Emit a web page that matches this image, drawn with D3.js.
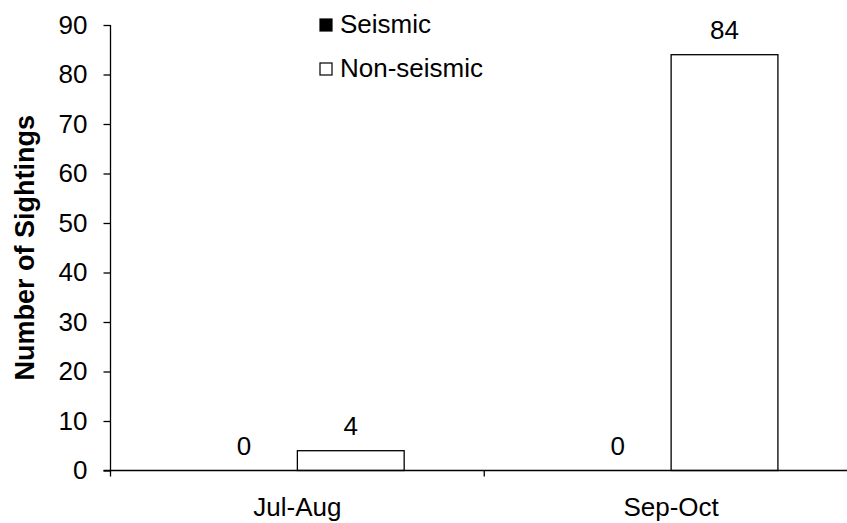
<!DOCTYPE html>
<html>
<head>
<meta charset="utf-8">
<script src="https://cdn.jsdelivr.net/npm/d3@7/dist/d3.min.js"></script>
<style>
html,body{margin:0;padding:0;background:#fff;}
svg{display:block;}
text{font-family:"Liberation Sans",Arial,sans-serif;fill:#000;}
</style>
</head>
<body>
<svg id="chart" width="847" height="523"></svg>
<script>
const categories = ["Jul-Aug", "Sep-Oct"];
const seriesNames = ["Seismic", "Non-seismic"];
const seismic = [0, 0];
const nonSeismic = [4, 84];
const yTicks = [0, 10, 20, 30, 40, 50, 60, 70, 80, 90];
const yTitle = "Number of Sightings";

(function () {
const svg = d3.select("#chart");
const pLeft = 110.5, pRight = 858, pTop = 25, pBottom = 470.5;
const fs = "26px";

const y = d3.scaleLinear().domain([0, 90]).range([pBottom, pTop]);
const x = d3.scaleBand().domain(categories).range([pLeft, pRight]).paddingInner(0).paddingOuter(0);
const gapRatio = 1.5;
const barW = x.bandwidth() / (2 + gapRatio);
const xs = d3.scaleBand().domain(seriesNames).range([0, 2 * barW]);
const offset = (x.bandwidth() - 2 * barW) / 2;

const data = categories.map((c, i) => ({cat: c, values: [
  {s: seriesNames[0], v: seismic[i]},
  {s: seriesNames[1], v: nonSeismic[i]}
]}));
const fills = {"Seismic": "#000", "Non-seismic": "#fff"};

const groups = svg.append("g").selectAll("g").data(data).join("g")
  .attr("transform", d => `translate(${x(d.cat) + offset},0)`);
groups.selectAll("rect").data(d => d.values).join("rect")
  .attr("x", d => xs(d.s))
  .attr("y", d => y(d.v))
  .attr("width", xs.bandwidth())
  .attr("height", d => y(0) - y(d.v))
  .attr("fill", d => fills[d.s])
  .attr("stroke", "#000")
  .attr("stroke-width", 1.3);

groups.selectAll("text").data(d => d.values).join("text")
  .attr("x", d => xs(d.s) + xs.bandwidth() / 2)
  .attr("y", d => y(d.v) - 16)
  .attr("text-anchor", "middle")
  .style("font-size", fs)
  .text(d => d.v);

const yAxis = svg.append("g").attr("transform", `translate(${pLeft},0)`)
  .call(d3.axisLeft(y).tickValues(yTicks).tickSize(7).tickPadding(16));
yAxis.select(".domain").attr("stroke", "#000").attr("stroke-width", 1.3).attr("d", `M0,${pTop}V${pBottom}`);
yAxis.selectAll(".tick line").attr("stroke", "#000").attr("stroke-width", 1.3);
yAxis.selectAll(".tick text").style("font-size", fs).attr("font-family", null).attr("fill", "#000");

const boundaries = [pLeft, x("Sep-Oct"), pRight];
svg.append("line").attr("x1", pLeft - 7).attr("x2", pRight).attr("y1", pBottom).attr("y2", pBottom)
  .attr("stroke", "#000").attr("stroke-width", 1.3);
svg.append("g").selectAll("line").data(boundaries).join("line")
  .attr("x1", d => d).attr("x2", d => d).attr("y1", pBottom).attr("y2", pBottom + 6)
  .attr("stroke", "#000").attr("stroke-width", 1.3);
svg.append("g").selectAll("text").data(categories).join("text")
  .attr("x", d => x(d) + x.bandwidth() / 2)
  .attr("y", 516)
  .attr("text-anchor", "middle")
  .style("font-size", fs)
  .text(d => d);

svg.append("text")
  .attr("transform", `translate(34,${(pTop + pBottom) / 2}) rotate(-90)`)
  .attr("text-anchor", "middle")
  .style("font-size", "27px")
  .style("font-weight", "bold")
  .text(yTitle);

const legend = svg.append("g").selectAll("g").data(seriesNames).join("g")
  .attr("transform", (d, i) => `translate(320,${19 + i * 44})`);
legend.append("rect").attr("width", 12).attr("height", 12)
  .attr("fill", d => fills[d]).attr("stroke", "#000").attr("stroke-width", 1.2);
legend.append("text").attr("x", 20).attr("y", 14)
  .style("font-size", fs).text(d => d);
})();
</script>
</body>
</html>
